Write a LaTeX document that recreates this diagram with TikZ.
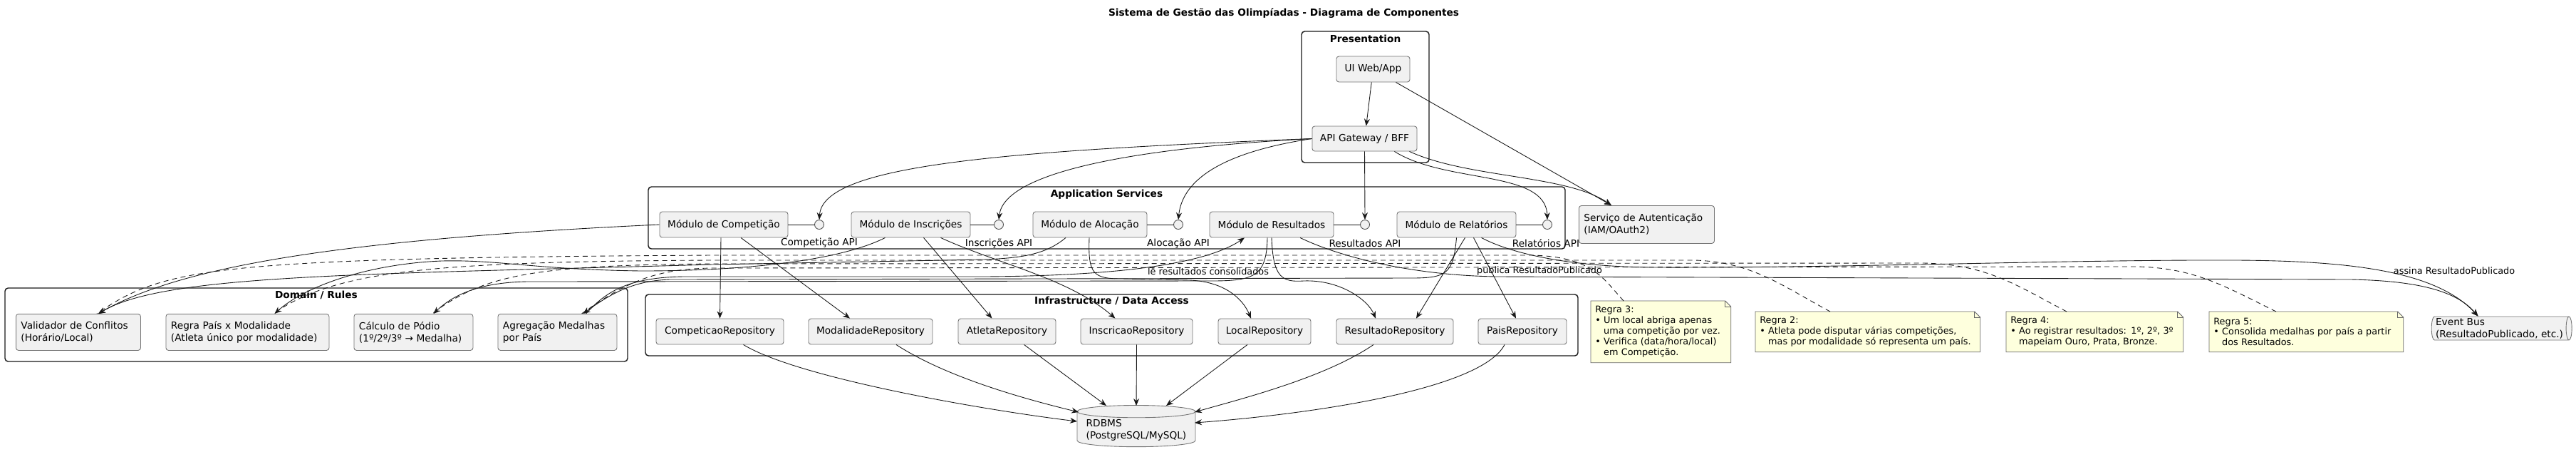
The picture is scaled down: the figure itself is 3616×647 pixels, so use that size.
\documentclass[tikz,border=0pt]{standalone}
\usepackage{fontspec}
\setmainfont{DejaVu Sans}
\usetikzlibrary{shapes.geometric,positioning,arrows.meta,calc,backgrounds}

\definecolor{compfill}{HTML}{F1F1F1}
\definecolor{notefill}{HTML}{FEFFDD}
\definecolor{edgeclr}{HTML}{181818}
\newcommand{\pxu}{0.02cm}
\newcommand{\boxfont}{\fontsize{7.8}{9.7}\selectfont}
\newcommand{\notefont}{\fontsize{7.3}{8.5}\selectfont}

\begin{document}
\begin{tikzpicture}[x=0.02cm, y=-0.02cm,
  comp/.style={rectangle, draw=black!55, fill=compfill, rounded corners=2pt, line width=0.5pt, font=\boxfont, inner sep=0pt, minimum height=36*\pxu},
  comptwo/.style={comp, align=left, anchor=north west, inner xsep=7*\pxu, minimum height=51*\pxu},
  iface/.style={circle, draw=black!70, fill=compfill, line width=0.5pt, minimum size=13*\pxu, inner sep=0pt},
  apilabel/.style={font=\boxfont, inner sep=1pt},
  frame/.style={rectangle, draw=edgeclr, rounded corners=2.5pt, line width=0.8pt},
  frametitle/.style={font=\boxfont\bfseries, inner sep=1pt},
  note/.style={rectangle, align=left, anchor=north west, font=\notefont, inner xsep=6*\pxu, inner ysep=2pt},
  noteline/.style={draw=black!60, fill=notefill, line width=0.5pt},
  elabel/.style={font=\notefont, inner sep=1pt},
  arr/.style={draw=edgeclr, line width=0.5pt, -{Stealth[length=2mm, width=1.6mm]}},
  link/.style={draw=edgeclr, line width=0.5pt},
  notelink/.style={draw=edgeclr, line width=0.5pt, dashed, dash pattern=on 4pt off 3pt},
]
\useasboundingbox (0,0) rectangle (3616,647);

\node[font=\boxfont\bfseries] (title) at (1802,18) {Sistema de Gestão das Olimpíadas - Diagrama de Componentes};

% Frames
\node[frame, minimum width=179*\pxu, minimum height=184*\pxu] (frmPres) at (1916.5,136) {};
\node[frametitle] (ttlPres) at (1916.5,54) {Presentation};
\node[frame, minimum width=1287*\pxu, minimum height=87*\pxu] (frmApp) at (1553.5,305.5) {};
\node[frametitle] (ttlApp) at (1553.5,273) {Application Services};
\node[frame, minimum width=874*\pxu, minimum height=103*\pxu] (frmDom) at (444,455.5) {};
\node[frametitle] (ttlDom) at (444,414) {Domain / Rules};
\node[frame, minimum width=1309*\pxu, minimum height=86*\pxu] (frmInfra) at (1560.5,456) {};
\node[frametitle] (ttlInfra) at (1560.5,422) {Infrastructure / Data Access};

% Presentation
\node[comp, minimum width=103*\pxu] (ui) at (1927.5,97) {UI Web/App};
\node[comp, minimum width=147*\pxu, minimum height=35*\pxu] (gw) at (1915.5,194.5) {API Gateway / BFF};
\node[comptwo, text width=176*\pxu, minimum height=53*\pxu] (auth) at (2216,288) {Serviço de Autenticação\\(IAM/OAuth2)};

% Application services
\node[comp, minimum width=180*\pxu] (comp) at (1016,315) {Módulo de Competição};
\node[comp, minimum width=167*\pxu] (insc) at (1278.5,315) {Módulo de Inscrições};
\node[comp, minimum width=160*\pxu] (aloc) at (1530,315) {Módulo de Alocação};
\node[comp, minimum width=174*\pxu] (res) at (1785,315) {Módulo de Resultados};
\node[comp, minimum width=167*\pxu] (rel) at (2044.5,315) {Módulo de Relatórios};

\node[iface] (apiComp) at (1150,315) {};
\node[iface] (apiInsc) at (1402,315) {};
\node[iface] (apiAloc) at (1654,315) {};
\node[iface] (apiRes) at (1916,315) {};
\node[iface] (apiRel) at (2172,315) {};
\node[apilabel] (lblComp) at (1150,341) {Competição API};
\node[apilabel] (lblInsc) at (1402,341) {Inscrições API};
\node[apilabel] (lblAloc) at (1654,341) {Alocação API};
\node[apilabel] (lblRes) at (1916,341) {Resultados API};
\node[apilabel] (lblRel) at (2170,341) {Relatórios API};

% Domain
\node[comptwo, text width=161*\pxu] (valid) at (22,440) {Validador de Conflitos\\(Horário/Local)};
\node[comptwo, text width=215*\pxu] (regra) at (232.5,440) {Regra País x Modalidade\\(Atleta único por modalidade)};
\node[comptwo, text width=153*\pxu] (calc) at (496.5,440) {Cálculo de Pódio\\(1º/2º/3º → Medalha)};
\node[comptwo, text width=153*\pxu] (agreg) at (698.5,440) {Agregação Medalhas\\por País};

% Infrastructure
\node[comp, minimum width=179*\pxu] (repComp) at (1010.5,465) {CompeticaoRepository};
\node[comp, minimum width=174*\pxu] (repMod) at (1222,465) {ModalidadeRepository};
\node[comp, minimum width=137*\pxu] (repAtl) at (1413.5,465) {AtletaRepository};
\node[comp, minimum width=157*\pxu] (repInsc) at (1595.5,465) {InscricaoRepository};
\node[comp, minimum width=130*\pxu] (repLoc) at (1775,465) {LocalRepository};
\node[comp, minimum width=164*\pxu] (repRes) at (1958,465) {ResultadoRepository};
\node[comp, minimum width=124*\pxu] (repPais) at (2137,465) {PaisRepository};

\node[cylinder, shape border rotate=90, aspect=0.12, draw=black!55, fill=compfill, line width=0.5pt, font=\boxfont, align=left, minimum width=166*\pxu, minimum height=54*\pxu, inner sep=1pt] (db) at (1595,603) {RDBMS\\(PostgreSQL/MySQL)};
\node[cylinder, aspect=0.25, draw=black!55, fill=compfill, line width=0.5pt, font=\boxfont, align=left, minimum width=33*\pxu, minimum height=197*\pxu, inner sep=1pt] (bus) at (3508.5,460.5) {Event Bus\\(ResultadoPublicado, etc.)};

% Notes
\node[note, text width=184*\pxu, minimum height=86*\pxu] (nRegra3) at (2233,422) {Regra 3:\\• Um local abriga apenas\\\hphantom{• }uma competição por vez.\\• Verifica (data/hora/local)\\\hphantom{• }em Competição.};
\node[note, text width=303*\pxu, minimum height=56*\pxu] (nRegra2) at (2464,437) {Regra 2:\\• Atleta pode disputar várias competições,\\\hphantom{• }mas por modalidade só representa um país.};
\node[note, text width=236*\pxu, minimum height=56*\pxu] (nRegra4) at (2816,437) {Regra 4:\\• Ao registrar resultados: 1º, 2º, 3º\\\hphantom{• }mapeiam Ouro, Prata, Bronze.};
\node[note, text width=260*\pxu, minimum height=56*\pxu] (nRegra5) at (3101,437) {Regra 5:\\• Consolida medalhas por país a partir\\\hphantom{• }dos Resultados.};
\begin{scope}[on background layer]
\foreach \n in {nRegra3,nRegra2,nRegra4,nRegra5}{
  \filldraw[noteline] (\n.north west) -- ([xshift=-8*\pxu]\n.north east) -- ([yshift=-8*\pxu]\n.north east) -- (\n.south east) -- (\n.south west) -- cycle;
  \draw[noteline, fill=none] ([xshift=-8*\pxu]\n.north east) |- ([yshift=-8*\pxu]\n.north east);
}
\end{scope}

% Presentation edges
\draw[arr] (ui) -- (gw);
\draw[arr] ($(ui.south east)+(-20,0)$) -- ($(auth.north west)+(46,0)$);
\draw[arr] ($(gw.south east)+(-11,0)$) .. controls (2060,250) and (2200,245) .. ($(auth.north west)+(46,0)$);
\draw[arr] (gw.west) .. controls (1400,212) and (1155,232) .. (apiComp.north);
\draw[arr] (gw.west) .. controls (1600,207) and (1410,240) .. (apiInsc.north);
\draw[arr] (gw.west) .. controls (1720,213) and (1660,250) .. (apiAloc.north);
\draw[arr] (gw.south) -- (apiRes.north);
\draw[arr] ($(gw.south east)+(-32,0)$) .. controls (2030,258) and (2170,238) .. (apiRel.north);

% Module to interface
\draw[link] (comp) -- (apiComp);
\draw[link] (insc) -- (apiInsc);
\draw[link] (aloc) -- (apiAloc);
\draw[link] (res) -- (apiRes);
\draw[link] (rel) -- (apiRel);

% Modules to repositories
\draw[arr] ($(comp.south)+(-4,0)$) -- (repComp.north);
\draw[arr] ($(comp.south)+(24,0)$) -- ($(repMod.north)+(-29,0)$);
\draw[arr] ($(insc.south)+(18,0)$) -- ($(repAtl.north)+(-21,0)$);
\draw[arr] ($(insc.south)+(42,0)$) .. controls (1400,370) and (1500,390) .. ($(repInsc.north)+(-30,0)$);
\draw[arr] ($(aloc.south)+(-1,0)$) .. controls (1527,385) and (1535,391) .. (1575,391) -- (1670,393) .. controls (1720,395) and (1745,420) .. ($(repLoc.north)+(-19,0)$);
\draw[arr] (res.south) .. controls (1787,390) and (1800,396) .. (1830,394) .. controls (1880,392) and (1920,420) .. ($(repRes.north)+(-27,0)$);
\draw[arr] ($(rel.south)+(12,0)$) -- ($(repRes.north)+(30,0)$);
\draw[arr] ($(rel.south)+(24,0)$) -- ($(repPais.north)+(-9,0)$);

% Repositories to database
\draw[arr] ($(repComp.south)+(33,0)$) .. controls (1120,530) and (1380,575) .. ($(db.center)+(-83,-12)$);
\draw[arr] ($(repMod.south)+(36,0)$) .. controls (1330,530) and (1440,560) .. ($(db.center)+(-81,-25)$);
\draw[arr] ($(repAtl.south)+(24,0)$) -- ($(db.center)+(-42,-34)$);
\draw[arr] (repInsc.south) -- ($(db.center)+(0,-34)$);
\draw[arr] ($(repLoc.south)+(-24,0)$) -- ($(db.center)+(42,-34)$);
\draw[arr] ($(repRes.south)+(-30,0)$) .. controls (1860,530) and (1740,560) .. ($(db.center)+(82,-25)$);
\draw[arr] ($(repPais.south)+(-25,0)$) .. controls (2080,545) and (1850,580) .. ($(db.center)+(82,-10)$);

% Modules to domain rules
\draw[arr] (comp.west) .. controls (500,335) and (260,370) .. ($(valid.north)+(28,0)$);
\draw[arr] ($(aloc.south)+(-34,0)$) .. controls (1470,355) and (1440,362) .. (1380,364) -- (1000,371) .. controls (500,385) and (230,385) .. ($(valid.north)+(28,0)$);
\draw[arr] ($(insc.south)+(-36,0)$) .. controls (1180,365) and (1050,380) .. (900,380) .. controls (750,378) and (700,364) .. (620,366) .. controls (520,370) and (430,400) .. ($(regra.north)+(38,0)$);
\draw[arr] ($(res.south)+(-6,0)$) .. controls (1778,388) and (1760,394) .. (1700,394) -- (740,395) .. controls (680,396) and (640,410) .. ($(calc.north)+(28,0)$);
\draw[arr] (rel.south) .. controls (2040,385) and (2030,390) .. (1980,390) -- (940,392) .. controls (890,394) and (860,410) .. ($(agreg.north)+(36,0)$);
\draw[arr] ($(agreg.north)+(40,0)$) .. controls (850,410) and (880,389) .. (960,388) -- (1380,388) .. controls (1560,387) and (1690,372) .. ($(res.south)+(-38,0)$);
\node[elabel] (lblLe) at (1696,380) {lê resultados consolidados};

% Event bus
\draw[arr] ($(res.south)+(40,0)$) .. controls (1880,360) and (1980,386) .. (2100,388) -- (3300,392) .. controls (3400,394) and (3450,410) .. ($(bus.north)+(-30,0)$);
\node[elabel] (lblPub) at (2161,380) {publica ResultadoPublicado};
\draw[arr] ($(rel.south)+(35,0)$) .. controls (2120,355) and (2200,374) .. (2320,375) .. controls (2600,376) and (2900,364) .. (3140,365) .. controls (3300,366) and (3420,380) .. ($(bus.north)+(-30,0)$);
\node[elabel] (lblSub) at (3445,380) {assina ResultadoPublicado};

% Notes to rules
\draw[notelink] ($(nRegra3.north west)+(46,0)$) .. controls (2250,390) and (2235,360) .. (2150,358) -- (1000,358) .. controls (300,362) and (230,375) .. ($(valid.north)+(26,0)$);
\draw[notelink] ($(nRegra2.north west)+(105,0)$) .. controls (2500,400) and (2460,368) .. (2380,365) -- (1000,365) .. controls (600,367) and (470,380) .. ($(regra.north)+(36,0)$);
\draw[notelink] ($(nRegra4.north west)+(85,0)$) .. controls (2830,400) and (2790,371) .. (2700,369) -- (1000,370) .. controls (750,372) and (680,385) .. ($(calc.north)+(26,0)$);
\draw[notelink] ($(nRegra5.north west)+(94,0)$) .. controls (3120,400) and (3080,376) .. (3000,374) -- (1000,376) .. controls (920,377) and (880,395) .. ($(agreg.north)+(34,0)$);

\end{tikzpicture}
\end{document}
